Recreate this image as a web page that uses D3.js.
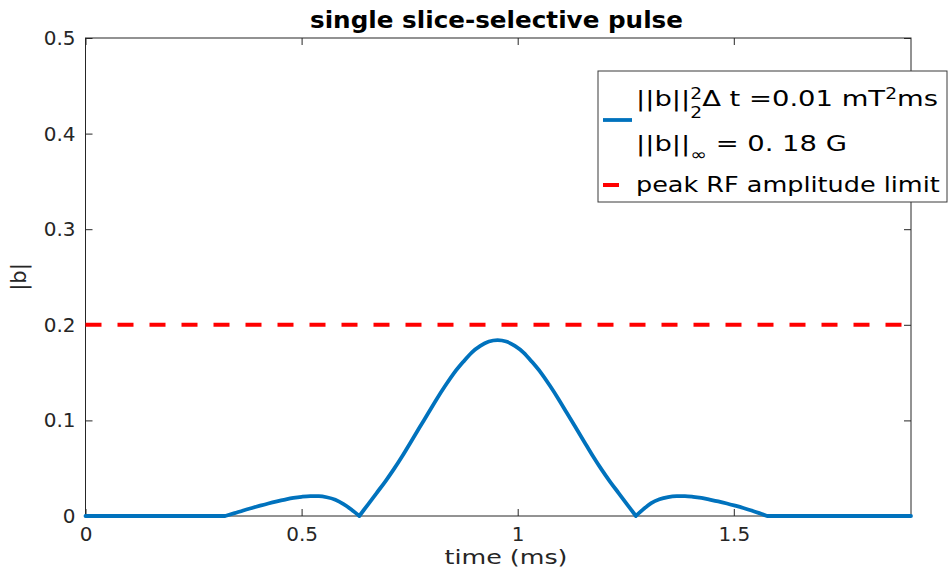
<!DOCTYPE html>
<html>
<head>
<meta charset="utf-8">
<script src="https://cdn.jsdelivr.net/npm/d3@7"></script>
<style>
  html, body { margin: 0; padding: 0; background: #fff; }
  svg { display: block; }
  text { font-family: "DejaVu Sans", "Liberation Sans", sans-serif; }
</style>
</head>
<body>
<svg id="chart" width="951" height="571"></svg>
<script>
// RF pulse magnitude |b| over time (ms)
const timeMs = [0, 0.323, 0.345, 0.365, 0.385, 0.404, 0.423, 0.443, 0.462, 0.481, 0.500,
  0.520, 0.540, 0.558, 0.578, 0.597, 0.615, 0.6335,
  0.6535, 0.6735, 0.6935, 0.7135, 0.7335, 0.7535, 0.7735, 0.7935, 0.8135, 0.8335, 0.8535,
  0.8735, 0.8935, 0.9135, 0.9335, 0.9535, 0.9735, 0.9935, 1.0135, 1.0335, 1.0535, 1.0735,
  1.0935, 1.1135, 1.1335, 1.1535, 1.1735, 1.1935, 1.2135, 1.2335, 1.2535, 1.2735,
  1.291, 1.309, 1.328, 1.348, 1.368, 1.387, 1.406, 1.425, 1.444, 1.464, 1.484, 1.503,
  1.522, 1.541, 1.559, 1.577, 1.91];
const amplitude = [0, 0, 0.0030, 0.0058, 0.0084, 0.0108, 0.0131, 0.0153, 0.0172, 0.0189, 0.0201,
  0.0208, 0.0207, 0.0196, 0.0170, 0.0125, 0.0068, 0,
  0.012, 0.024, 0.036, 0.049, 0.063, 0.078, 0.093, 0.108, 0.123, 0.137, 0.150,
  0.161, 0.171, 0.178, 0.1825, 0.184, 0.1825, 0.178, 0.171, 0.161, 0.150, 0.137,
  0.123, 0.108, 0.093, 0.078, 0.063, 0.049, 0.036, 0.024, 0.012, 0,
  0.0072, 0.0135, 0.0175, 0.0198, 0.0207, 0.0208, 0.0201, 0.0189, 0.0172, 0.0153, 0.0131, 0.0108,
  0.0084, 0.0058, 0.0030, 0, 0];

const peakLimit = 0.2;           // peak RF amplitude limit
const xDomain = [0, 1.91];
const yDomain = [0, 0.5];
const xTicks = [0, 0.5, 1, 1.5];
const xTickLabels = ["0", "0.5", "1", "1.5"];
const yTicks = [0, 0.1, 0.2, 0.3, 0.4, 0.5];
const yTickLabels = ["0", "0.1", "0.2", "0.3", "0.4", "0.5"];
const titleText = "single slice-selective pulse";
const xLabel = "time (ms)";
const yLabel = "|b|";
const legendPeak = "peak RF amplitude limit";

const plot = { left: 85.5, right: 911, top: 38, bottom: 516 };
const axisColor = "#262626";
const blue = "#0072BD";
const red = "#FF0000";

const svg = d3.select("#chart");
const x = d3.scaleLinear().domain(xDomain).range([plot.left, plot.right]);
const y = d3.scaleLinear().domain(yDomain).range([plot.bottom, plot.top]);

// frame
svg.append("rect")
  .attr("x", plot.left).attr("y", plot.top)
  .attr("width", plot.right - plot.left).attr("height", plot.bottom - plot.top)
  .attr("fill", "none").attr("stroke", axisColor).attr("stroke-width", 1);

// axes with inward ticks on all four sides
const tickLen = 7;
function styleAxis(g) {
  g.select(".domain").remove();
  g.selectAll(".tick line").attr("stroke", axisColor).attr("stroke-width", 1);
  g.selectAll(".tick text").attr("fill", axisColor).attr("font-size", 20);
}
svg.append("g").attr("transform", `translate(0,${plot.bottom})`)
  .call(d3.axisBottom(x).tickValues(xTicks).tickSizeInner(-tickLen).tickSizeOuter(0)
    .tickPadding(11).tickFormat((d, i) => xTickLabels[i]))
  .call(styleAxis);
svg.append("g").attr("transform", `translate(0,${plot.top})`)
  .call(d3.axisTop(x).tickValues(xTicks).tickSizeInner(-tickLen).tickSizeOuter(0).tickFormat(""))
  .call(styleAxis);
svg.append("g").attr("transform", `translate(${plot.left},0)`)
  .call(d3.axisLeft(y).tickValues(yTicks).tickSizeInner(-tickLen).tickSizeOuter(0)
    .tickPadding(10).tickFormat((d, i) => yTickLabels[i]))
  .call(styleAxis);
svg.append("g").attr("transform", `translate(${plot.right},0)`)
  .call(d3.axisRight(y).tickValues(yTicks).tickSizeInner(-tickLen).tickSizeOuter(0).tickFormat(""))
  .call(styleAxis);

// peak limit (dashed)
svg.append("line")
  .attr("x1", x(xDomain[0])).attr("x2", x(xDomain[1]))
  .attr("y1", y(peakLimit)).attr("y2", y(peakLimit))
  .attr("stroke", red).attr("stroke-width", 4).attr("stroke-dasharray", "16,16");

// pulse magnitude: each lobe (between zeros) is smoothed on its own so the
// cusps at the zero crossings stay sharp
const pts = timeMs.map((t, i) => [t, amplitude[i]]);
const lobes = [];
let cur = [pts[0]];
for (let i = 1; i < pts.length; i++) {
  cur.push(pts[i]);
  if (pts[i][1] === 0 && i < pts.length - 1) { lobes.push(cur); cur = [pts[i]]; }
}
lobes.push(cur);
const lineGen = d3.line().x(d => x(d[0])).y(d => y(d[1])).curve(d3.curveMonotoneX);
svg.append("path")
  .attr("fill", "none").attr("stroke", blue).attr("stroke-width", 3.8)
  .attr("stroke-linejoin", "round").attr("stroke-linecap", "round")
  .attr("d", lobes.map(l => lineGen(l)).join(""));

// title and axis labels
svg.append("text").attr("x", 496.5).attr("y", 28).attr("text-anchor", "middle")
  .attr("font-size", 23).attr("font-weight", "bold").attr("fill", "#000")
  .attr("textLength", 373).attr("lengthAdjust", "spacingAndGlyphs").text(titleText);
svg.append("text").attr("x", 506).attr("y", 564).attr("text-anchor", "middle")
  .attr("font-size", 20).attr("fill", axisColor)
  .attr("textLength", 123).attr("lengthAdjust", "spacingAndGlyphs").text(xLabel);
svg.append("text").attr("transform", "translate(26,277) rotate(-90)")
  .attr("text-anchor", "middle").attr("font-size", 21).attr("fill", axisColor)
  .text(yLabel);

// legend
const lg = svg.append("g");
lg.append("rect").attr("x", 598).attr("y", 71).attr("width", 349).attr("height", 131)
  .attr("fill", "#fff").attr("stroke", "#3a3a3a").attr("stroke-width", 1);
lg.append("line").attr("x1", 603).attr("x2", 632).attr("y1", 120).attr("y2", 120)
  .attr("stroke", blue).attr("stroke-width", 3.8);
lg.append("line").attr("x1", 603).attr("x2", 632).attr("y1", 185).attr("y2", 185)
  .attr("stroke", red).attr("stroke-width", 4).attr("stroke-dasharray", "16,16");

const textX = 636;
// lays out a legend line from pieces and stretches it to the given width
function legendLine(parts, baseline, targetWidth) {
  const g = lg.append("g");
  let cx = textX;
  parts.forEach(p => {
    const t = g.append("text").attr("x", cx).attr("y", baseline + (p.dy || 0))
      .attr("font-size", p.size || 22).attr("fill", "#000")
      .attr("xml:space", "preserve").text(p.text);
    const w = t.node().getComputedTextLength();
    if (p.advance !== false) cx += w;
  });
  const sx = targetWidth / (cx - textX);
  g.attr("transform", `translate(${textX},0) scale(${sx},1) translate(${-textX},0)`);
}
legendLine([
  { text: "||b||" },
  { text: "2", size: 15, dy: -7, advance: false },
  { text: "2", size: 15, dy: 12 },
  { text: "\u0394 t =0.01 mT" },
  { text: "2", size: 15, dy: -7 },
  { text: "ms" }
], 105.7, 302);
legendLine([
  { text: "||b||" },
  { text: "\u221E", size: 16, dy: 9 },
  { text: " = 0. 18 G" }
], 150.7, 211);
legendLine([{ text: legendPeak }], 192, 304);
</script>
</body>
</html>
